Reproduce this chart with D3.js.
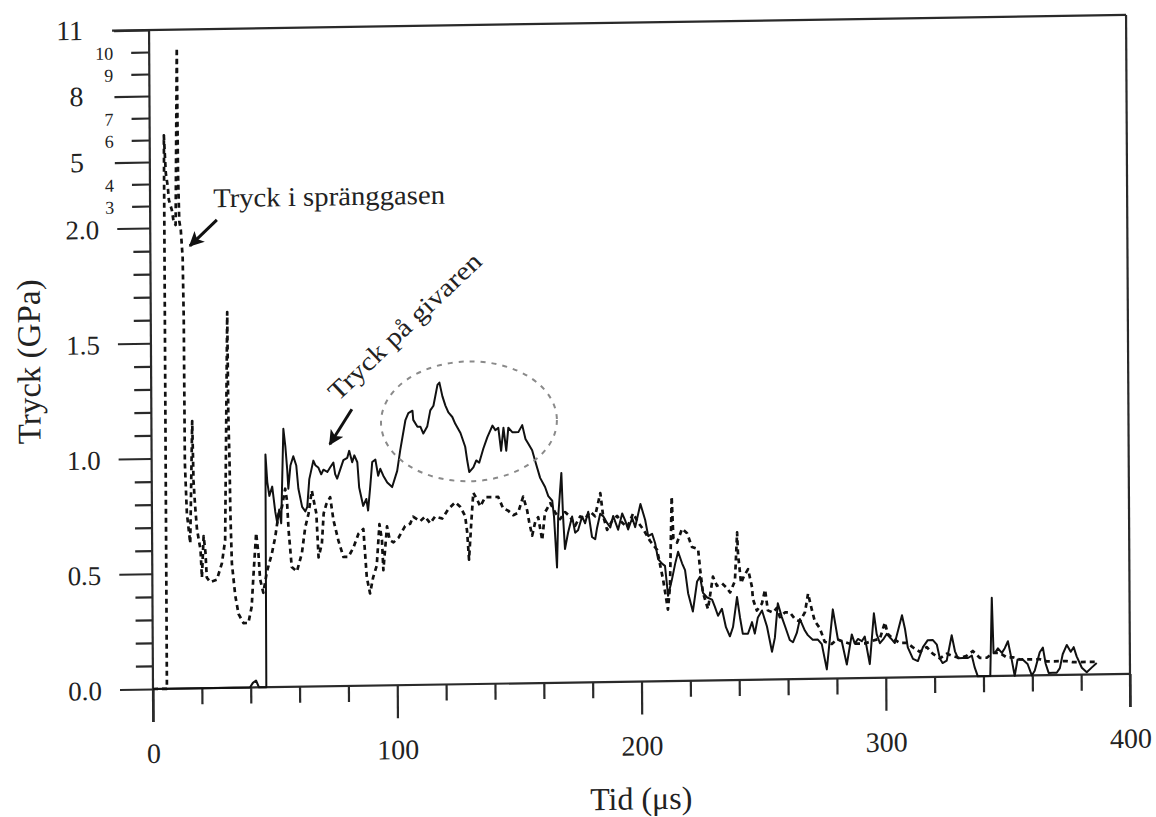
<!DOCTYPE html>
<html>
<head>
<meta charset="utf-8">
<script src="https://cdn.jsdelivr.net/npm/d3@7/dist/d3.min.js"></script>
<style>
  html, body { margin: 0; padding: 0; background: #fff; }
  svg { display: block; }
  text { font-family: "Liberation Serif", "Times New Roman", serif; fill: #222; }
</style>
</head>
<body>
<svg id="chart" width="1156" height="817"></svg>
<script>
// ---------- DATA ----------
// Tryck på givaren (solid): [tid µs, tryck GPa]
const givarenData = [
[0,0],[39.7,0],[40.9,0.02],[42.2,0.03],[43.4,0],[46.4,0],[46.6,1.01],[47.3,0.89],[48.1,0.83],[49.3,0.87],[50.5,0.76],[51.3,0.71],[52.1,0.77],[52.9,0.71],[54.0,1.12],[54.8,1.04],[55.5,0.94],[55.9,0.86],[56.8,0.96],[58.0,1.0],[59.2,0.96],[60.0,0.86],[61.5,0.78],[62.8,0.76],[63.6,0.78],[64.5,0.9],[66.2,0.98],[67.0,0.96],[68.2,0.95],[69.4,0.92],[70.3,0.94],[71.9,0.93],[73.1,0.95],[74.4,0.97],[75.1,0.92],[75.9,0.9],[77.2,0.94],[78.5,0.98],[80.1,0.99],[80.9,1.02],[82.1,0.97],[83.0,1.0],[84.2,0.97],[84.9,0.86],[86.5,0.78],[87.8,0.81],[88.5,0.76],[89.4,0.86],[90.3,0.97],[91.6,0.98],[92.7,0.91],[93.6,0.94],[94.8,0.91],[96.4,0.88],[98.4,0.86],[100.5,0.93],[101.8,1.02],[104.0,1.15],[105.2,1.18],[106.9,1.19],[107.2,1.15],[108.9,1.12],[110.1,1.12],[111.3,1.09],[112.9,1.12],[114.2,1.19],[115.5,1.21],[117.2,1.3],[118.0,1.31],[119.2,1.25],[120.4,1.21],[121.6,1.18],[123.2,1.16],[124.4,1.13],[126.5,1.09],[128.4,1.03],[129.2,0.97],[130.0,0.92],[131.7,0.94],[132.9,0.97],[134.1,0.96],[135.8,1.02],[137.5,1.07],[139.6,1.12],[140.8,1.1],[142.0,1.11],[143.1,1.01],[144.1,1.11],[145.2,1.01],[146.1,1.11],[147.7,1.09],[149.0,1.09],[150.2,1.09],[151.8,1.12],[153.1,1.06],[154.2,1.04],[155.8,1.01],[157.1,0.96],[159.0,0.89],[161.0,0.85],[162.3,0.81],[163.9,0.79],[164.6,0.72],[165.7,0.5],[166.3,0.72],[167.7,0.91],[168.3,0.72],[169.0,0.58],[170.3,0.65],[172.0,0.72],[173.2,0.65],[174.4,0.66],[176.1,0.72],[177.3,0.69],[178.6,0.74],[180.1,0.63],[181.4,0.62],[182.2,0.67],[183.5,0.73],[184.7,0.72],[186.3,0.69],[187.6,0.67],[188.8,0.72],[190.8,0.66],[192.5,0.73],[193.7,0.7],[194.9,0.66],[196.6,0.71],[197.8,0.67],[200.0,0.77],[201.9,0.7],[203.1,0.63],[204.7,0.64],[205.9,0.6],[207.1,0.53],[208.7,0.51],[209.9,0.5],[211.1,0.37],[212.7,0.44],[214.1,0.51],[215.3,0.56],[216.9,0.51],[218.1,0.48],[219.3,0.38],[221.2,0.3],[223.0,0.43],[224.2,0.45],[225.4,0.38],[227.1,0.36],[229.1,0.35],[230.2,0.32],[231.5,0.28],[233.1,0.31],[234.7,0.23],[236.3,0.19],[237.6,0.23],[239.3,0.36],[240.5,0.27],[241.6,0.2],[243.7,0.2],[245.4,0.25],[246.5,0.2],[247.8,0.27],[249.5,0.3],[251.5,0.23],[253.5,0.12],[254.7,0.18],[256.0,0.33],[257.6,0.27],[258.9,0.23],[260.8,0.17],[262.1,0.16],[263.7,0.2],[265.0,0.26],[267.0,0.21],[268.2,0.19],[270.2,0.17],[272.3,0.17],[273.9,0.15],[275.9,0.04],[278.5,0.3],[280.5,0.17],[282.1,0.16],[284.1,0.06],[286.2,0.19],[287.4,0.15],[288.7,0.17],[290.3,0.16],[291.5,0.18],[293.5,0.06],[295.3,0.28],[296.4,0.19],[297.7,0.15],[299.3,0.17],[300.5,0.19],[302.2,0.17],[303.8,0.15],[306.8,0.27],[308.0,0.21],[309.1,0.13],[311.2,0.08],[313.2,0.07],[315.3,0.13],[317.3,0.16],[319.4,0.16],[321.0,0.14],[322.2,0.08],[323.3,0.06],[325.0,0.07],[327.1,0.18],[328.4,0.11],[329.6,0.08],[331.6,0.08],[333.7,0.08],[335.3,0.09],[336.4,0.04],[337.7,0],[342.8,0],[343.6,0.34],[344.2,0.1],[344.7,0.1],[346.0,0.12],[347.6,0.1],[348.8,0.12],[350.1,0.15],[351.6,0.07],[352.8,0],[354.0,0.07],[356.1,0.07],[358.1,0.05],[359.8,0],[361.0,0.02],[363.1,0.1],[364.4,0.12],[365.5,0.05],[366.7,0.01],[368.4,0.01],[370.0,0.01],[371.3,0.03],[372.5,0.09],[374.2,0.13],[375.8,0.1],[377.0,0.12],[378.2,0.08],[380.3,0.03],[382.3,0.01],[384.3,0.03],[386.4,0.05]
];

// Tryck i spränggasen (dashed): [tid µs, tryck GPa]
const gasData = [
[0,0],[5.7,0],[5.8,6.2],[6.5,4.49],[7.3,3.85],[7.7,3.26],[8.9,2.8],[9.6,2.26],[10.4,2.12],[11.3,10.16],[11.5,4.5],[11.9,2.3],[12.5,1.99],[13.2,1.87],[13.5,1.6],[13.6,0.98],[14.3,0.76],[15.6,0.63],[16.7,1.16],[17.1,0.9],[17.7,0.79],[18.4,0.69],[19.8,0.6],[20.3,0.48],[21.1,0.66],[21.8,0.59],[22.3,0.48],[23.7,0.46],[26.4,0.47],[28.5,0.54],[29.9,0.64],[31.3,1.63],[31.5,1.19],[31.9,0.97],[32.1,0.76],[32.6,0.54],[33.9,0.4],[35.2,0.32],[37.2,0.28],[39.2,0.28],[40.6,0.35],[41.3,0.47],[42.6,0.67],[43.5,0.58],[44.1,0.47],[45.4,0.41],[46.9,0.5],[49.0,0.58],[50.4,0.65],[51.8,0.75],[53.2,0.78],[54.6,0.86],[55.3,0.81],[55.9,0.68],[57.1,0.52],[59.2,0.5],[61.3,0.58],[62.7,0.69],[64.1,0.75],[65.5,0.85],[66.2,0.81],[67.3,0.75],[68.1,0.56],[69.5,0.62],[70.3,0.75],[71.4,0.79],[73.0,0.82],[74.3,0.72],[76.3,0.63],[78.3,0.56],[80.3,0.56],[82.4,0.6],[84.5,0.66],[86.5,0.68],[87.8,0.47],[89.1,0.4],[90.4,0.47],[91.9,0.52],[93.1,0.7],[94.1,0.63],[94.6,0.5],[96.2,0.69],[97.3,0.63],[98.8,0.62],[100.9,0.64],[103.6,0.69],[105.7,0.7],[106.9,0.73],[109.8,0.71],[111.8,0.73],[113.9,0.7],[115.9,0.73],[118.8,0.72],[121.3,0.76],[124.2,0.79],[126.2,0.77],[128.2,0.73],[129.0,0.66],[129.7,0.54],[130.7,0.7],[131.6,0.83],[133.2,0.8],[134.4,0.77],[136.5,0.81],[139.4,0.81],[141.8,0.81],[143.8,0.76],[145.8,0.75],[147.9,0.73],[149.9,0.74],[152.0,0.81],[153.6,0.75],[154.4,0.7],[155.6,0.64],[156.9,0.7],[158.1,0.72],[159.7,0.62],[160.9,0.74],[163.1,0.78],[165.0,0.74],[167.1,0.71],[169.1,0.74],[171.2,0.72],[173.2,0.68],[175.3,0.72],[177.3,0.71],[179.4,0.74],[181.4,0.72],[183.6,0.82],[184.7,0.72],[186.3,0.66],[188.4,0.7],[190.4,0.72],[192.5,0.69],[194.5,0.67],[197.0,0.73],[199.0,0.69],[201.1,0.66],[203.8,0.61],[206.7,0.57],[209.1,0.44],[211.0,0.31],[211.9,0.41],[212.8,0.8],[213.4,0.62],[214.9,0.6],[217.0,0.66],[219.0,0.64],[221.0,0.58],[223.5,0.57],[224.3,0.48],[225.4,0.38],[227.4,0.31],[229.5,0.45],[231.1,0.41],[233.2,0.42],[235.2,0.4],[236.5,0.38],[238.5,0.43],[239.5,0.64],[239.8,0.55],[241.0,0.42],[242.2,0.45],[243.9,0.48],[245.5,0.4],[245.8,0.35],[247.4,0.3],[249.5,0.33],[250.8,0.39],[251.9,0.3],[254.0,0.29],[255.6,0.31],[256.8,0.27],[258.9,0.29],[260.9,0.29],[263.0,0.26],[265.0,0.25],[267.1,0.29],[268.4,0.37],[269.9,0.3],[271.1,0.25],[273.1,0.22],[275.1,0.16],[278.0,0.15],[280.1,0.17],[282.5,0.16],[285.4,0.15],[288.2,0.15],[291.5,0.15],[294.4,0.16],[297.7,0.17],[299.8,0.24],[300.9,0.19],[303.0,0.17],[305.8,0.15],[308.7,0.15],[311.2,0.13],[314.0,0.11],[316.9,0.13],[319.4,0.1],[322.2,0.08],[325.1,0.1],[327.4,0.09],[330.3,0.08],[333.2,0.09],[335.7,0.11],[338.5,0.08],[341.4,0.08],[343.9,0.1],[346.7,0.1],[349.6,0.08],[352.1,0.08],[355.0,0.07],[357.8,0.07],[360.2,0.07],[363.1,0.07],[366.0,0.06],[368.4,0.06],[371.3,0.06],[374.1,0.06],[376.6,0.055],[379.5,0.055],[382.3,0.055],[384.7,0.055],[386.8,0.055]
];

const xMajorTicks = [0, 100, 200, 300, 400];
const xMinorTicks = [20,40,60,80,120,140,160,180,220,240,260,280,320,340,360,380];
const yLowerMajorTicks = [0, 0.5, 1.0, 1.5, 2.0];
const yLowerMinorTicks = [0.1,0.2,0.3,0.4,0.6,0.7,0.8,0.9,1.1,1.2,1.3,1.4,1.6,1.7,1.8,1.9];
const yUpperMajorTicks = [5, 8, 11];
const yUpperMinorTicks = [3, 4, 6, 7, 9, 10];

const xTitle = "Tid (\u03bcs)";
const yTitle = "Tryck (GPa)";
const gasLabel = "Tryck i spr\u00e4nggasen";
const givarenLabel = "Tryck p\u00e5 givaren";

// ---------- SCALES ----------
const W = 977;                 // plot width (0..400 µs)
const x = d3.scaleLinear().domain([0, 400]).range([0, W]);
// broken (piecewise linear) pressure axis: 0-2 GPa expanded, 2-11 GPa compressed
const y = d3.scaleLinear().domain([0, 2, 11]).range([0, -461, -659]);

const svg = d3.select("#chart");
svg.append("rect").attr("width", 1156).attr("height", 817).attr("fill", "#fff");

// slight scan skew of the original figure
const g = svg.append("g").attr("transform", "matrix(1,-0.0154,0.006,1,153,689)");

const axisColor = "#2a2a2a";

// frame
g.append("line").attr("x1", 0).attr("x2", 0).attr("y1", y(11)).attr("y2", 33)
  .attr("stroke", axisColor).attr("stroke-width", 2.2);
g.append("line").attr("x1", -37).attr("x2", W).attr("y1", y(11)).attr("y2", y(11))
  .attr("stroke", axisColor).attr("stroke-width", 2.2);
g.append("line").attr("x1", W).attr("x2", W).attr("y1", y(11)).attr("y2", 33)
  .attr("stroke", axisColor).attr("stroke-width", 2.2);
g.append("line").attr("x1", 0).attr("x2", W).attr("y1", 0).attr("y2", 0)
  .attr("stroke", axisColor).attr("stroke-width", 2.2);

function styleAxis(sel) {
  sel.select(".domain").remove();
  sel.attr("font-family", null);
  sel.selectAll(".tick line").attr("stroke", axisColor).attr("stroke-width", 2.2);
  sel.selectAll("text").style("font-family", "'Liberation Serif','Times New Roman',serif").attr("fill", "#222");
}

// x axis
const xMajor = g.append("g").call(d3.axisBottom(x).tickValues(xMajorTicks).tickSize(33).tickFormat(d3.format("d")));
styleAxis(xMajor);
xMajor.selectAll("text").attr("y", 74).attr("dy", 0).style("font-size", "28px");
const xMinor = g.append("g").call(d3.axisBottom(x).tickValues(xMinorTicks).tickSize(16).tickFormat(""));
styleAxis(xMinor);

// y axis lower
const yLowMaj = g.append("g").call(d3.axisLeft(y).tickValues(yLowerMajorTicks).tickSize(33).tickFormat(d3.format(".1f")));
styleAxis(yLowMaj);
yLowMaj.selectAll("text").attr("x", -51).attr("dy", "0.36em").style("font-size", "27px");
const yLowMin = g.append("g").call(d3.axisLeft(y).tickValues(yLowerMinorTicks).tickSize(17).tickFormat(""));
styleAxis(yLowMin);

// y axis upper (compressed)
const yUpMaj = g.append("g").call(d3.axisLeft(y).tickValues(yUpperMajorTicks).tickSize(35).tickFormat(d3.format("d")));
styleAxis(yUpMaj);
yUpMaj.selectAll("text").attr("x", -66).attr("dy", "0.3em").style("font-size", "28px");
const yUpMin = g.append("g").call(d3.axisLeft(y).tickValues(yUpperMinorTicks).tickSize(18).tickFormat(d3.format("d")));
styleAxis(yUpMin);
yUpMin.selectAll("text").attr("x", -36).attr("dy", "0.36em").style("font-size", "18px");

// axis titles
g.append("text").attr("transform", `translate(-111,${y(0) - 329}) rotate(-90)`)
  .attr("text-anchor", "middle").style("font-size", "33px").text(yTitle);
g.append("text").attr("x", x(200) - 1).attr("y", 128)
  .attr("text-anchor", "middle").style("font-size", "32px").text(xTitle);

// curves
const line = d3.line().x(d => x(d[0])).y(d => y(d[1]));
g.append("path").datum(gasData).attr("d", line)
  .attr("fill", "none").attr("stroke", "#111").attr("stroke-width", 2.7)
  .attr("stroke-dasharray", "5,4").attr("stroke-linejoin", "round");
g.append("path").datum(givarenData).attr("d", line)
  .attr("fill", "none").attr("stroke", "#111").attr("stroke-width", 2)
  .attr("stroke-linejoin", "round");

// dotted ellipse around the plateau
g.append("ellipse")
  .attr("cx", x(130)).attr("cy", y(1.14))
  .attr("rx", x(36) - x(0)).attr("ry", y(0) - y(0.26))
  .attr("fill", "none").attr("stroke", "#8a8a8a").attr("stroke-width", 2)
  .attr("stroke-dasharray", "5,6");

// arrows
const defs = svg.append("defs");
defs.append("marker").attr("id", "arr").attr("viewBox", "0 0 10 10")
  .attr("refX", 9).attr("refY", 5).attr("markerWidth", 5).attr("markerHeight", 5)
  .attr("orient", "auto").attr("markerUnits", "strokeWidth")
  .append("path").attr("d", "M0,0 L10,5 L0,10 L2.5,5 Z").attr("fill", "#111");

g.append("line").attr("x1", x(27.3)).attr("y1", y(2.32)).attr("x2", x(16.2)).attr("y2", y(1.92))
  .attr("stroke", "#111").attr("stroke-width", 3).attr("marker-end", "url(#arr)");
g.append("line").attr("x1", x(82.1)).attr("y1", y(1.2)).attr("x2", x(73.0)).attr("y2", y(1.05))
  .attr("stroke", "#111").attr("stroke-width", 3).attr("marker-end", "url(#arr)");

// annotation labels
g.append("text").attr("x", x(25.8)).attr("y", y(2.9))
  .attr("textLength", 232).attr("lengthAdjust", "spacingAndGlyphs")
  .style("font-size", "27px").text(gasLabel);
g.append("text").attr("transform", `translate(${x(76.4)},${y(1.233)}) rotate(-43)`)
  .attr("textLength", 200).attr("lengthAdjust", "spacingAndGlyphs")
  .style("font-size", "26px").text(givarenLabel);
</script>
</body>
</html>
